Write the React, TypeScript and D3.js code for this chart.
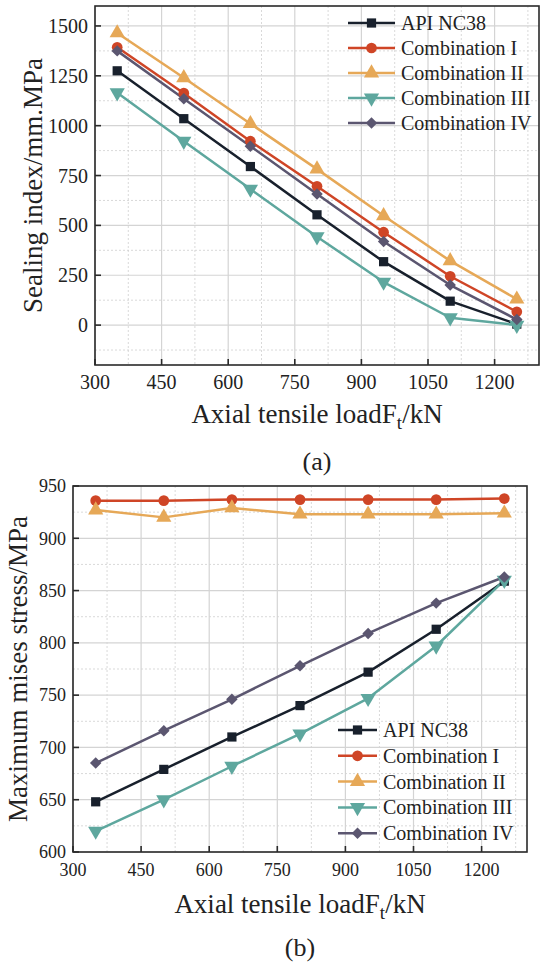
import React from "react";
import * as d3 from "d3";

const loads = [350, 500, 650, 800, 950, 1100, 1250];
const seriesNames = ["API NC38", "Combination I", "Combination II", "Combination III", "Combination IV"];
const seriesColors = ["#18202c", "#cf4526", "#e6a857", "#5ea79e", "#5b5670"];
const seriesSymbols = ["square", "circle", "triangleUp", "triangleDown", "diamond"];

// (a) Sealing index / mm.MPa
const sealApi = [1275, 1035, 795, 553, 318, 120, 5];
const sealC1 = [1393, 1163, 922, 696, 466, 245, 67];
const sealC2 = [1465, 1240, 1010, 782, 548, 322, 130];
const sealC3 = [1165, 922, 682, 443, 216, 37, 0];
const sealC4 = [1375, 1135, 897, 657, 419, 201, 28];

// (b) Maximum mises stress / MPa
const misesApi = [648, 679, 710, 740, 772, 813, 859];
const misesC1 = [936, 936, 937, 937, 937, 937, 938];
const misesC2 = [927, 920, 929, 923, 923, 923, 924];
const misesC3 = [620, 650, 682, 713, 747, 797, 860];
const misesC4 = [685, 716, 746, 778, 809, 838, 863];

const xTicks = [300, 450, 600, 750, 900, 1050, 1200];
const xMinor = [375, 525, 675, 825, 975, 1125, 1275];
const yTicksA = [0, 250, 500, 750, 1000, 1250, 1500];
const yMinorA = [-125, 125, 375, 625, 875, 1125, 1375];
const yTicksB = [600, 650, 700, 750, 800, 850, 900, 950];
const yMinorB = [625, 675, 725, 775, 825, 875, 925];

const FONT = "'Liberation Serif', 'Times New Roman', serif";

function symbolPath(kind: string) {
  switch (kind) {
    case "square":
      return { d: d3.symbol(d3.symbolSquare, 85)() as string, rot: 0 };
    case "circle":
      return { d: d3.symbol(d3.symbolCircle, 90)() as string, rot: 0 };
    case "triangleUp":
      return { d: d3.symbol(d3.symbolTriangle, 100)() as string, rot: 0 };
    case "triangleDown":
      return { d: d3.symbol(d3.symbolTriangle, 100)() as string, rot: 180 };
    default:
      return { d: d3.symbol(d3.symbolSquare, 66)() as string, rot: 45 };
  }
}

type PanelProps = {
  left: number;
  right: number;
  top: number;
  bottom: number;
  yDomain: [number, number];
  yTicks: number[];
  yMinor: number[];
  data: number[][];
  yTitle: string;
  yTitleX: number;
  xTitleY: number;
  tickLabelY: number;
  tickFont: number;
  legendX: number;
  legendY: number;
  legendStep: number;
  legendLineLen: number;
  caption: string;
  captionY: number;
};

function Panel(p: PanelProps) {
  const x = d3.scaleLinear().domain([300, 1300]).range([p.left, p.right]);
  const y = d3.scaleLinear().domain(p.yDomain).range([p.bottom, p.top]);
  const line = d3
    .line<number>()
    .x((_, i) => x(loads[i]))
    .y((v) => y(v));
  const cx = (p.left + p.right) / 2;
  const cy = (p.top + p.bottom) / 2;
  return (
    <g>
      {xMinor.map((v) => (
        <line key={"xm" + v} x1={x(v)} x2={x(v)} y1={p.top} y2={p.bottom} stroke="#cfcfcf" strokeWidth={0.8} strokeDasharray="2,2" />
      ))}
      {p.yMinor.map((v) => (
        <line key={"ym" + v} x1={p.left} x2={p.right} y1={y(v)} y2={y(v)} stroke="#cfcfcf" strokeWidth={0.8} strokeDasharray="2,2" />
      ))}
      {xTicks.map((v) => (
        <line key={"xg" + v} x1={x(v)} x2={x(v)} y1={p.top} y2={p.bottom} stroke="#d4d4d4" strokeWidth={1.2} />
      ))}
      {p.yTicks.map((v) => (
        <line key={"yg" + v} x1={p.left} x2={p.right} y1={y(v)} y2={y(v)} stroke="#d4d4d4" strokeWidth={1.2} />
      ))}
      {p.data.map((vals, si) => (
        <path key={"l" + si} d={line(vals) as string} fill="none" stroke={seriesColors[si]} strokeWidth={2.5} strokeLinejoin="round" />
      ))}
      {p.data.map((vals, si) => {
        const s = symbolPath(seriesSymbols[si]);
        return vals.map((v, i) => (
          <path
            key={"m" + si + "-" + i}
            d={s.d}
            fill={seriesColors[si]}
            transform={`translate(${x(loads[i])},${y(v)}) rotate(${s.rot})`}
          />
        ));
      })}
      <rect x={p.left} y={p.top} width={p.right - p.left} height={p.bottom - p.top} fill="none" stroke="#2a2a2a" strokeWidth={1.6} />
      {xTicks.map((v) => (
        <g key={"xt" + v}>
          <line x1={x(v)} x2={x(v)} y1={p.bottom} y2={p.bottom - 6} stroke="#2a2a2a" strokeWidth={1.6} />
          <text x={x(v)} y={p.tickLabelY} textAnchor="middle" fontFamily={FONT} fontSize={p.tickFont} fill="#222">
            {v}
          </text>
        </g>
      ))}
      {p.yTicks.map((v) => (
        <g key={"yt" + v}>
          <line x1={p.left} x2={p.left + 6} y1={y(v)} y2={y(v)} stroke="#2a2a2a" strokeWidth={1.6} />
          <text x={p.left - 7} y={y(v)} dy="0.35em" textAnchor="end" fontFamily={FONT} fontSize={p.tickFont} fill="#222">
            {v}
          </text>
        </g>
      ))}
      <text x={cx} y={p.xTitleY} textAnchor="middle" fontFamily={FONT} fontSize={27} fill="#222">
        Axial tensile loadF
        <tspan fontSize={19} dy={6}>t</tspan>
        <tspan dy={-6}>/kN</tspan>
      </text>
      <text
        transform={`translate(${p.yTitleX},${cy}) rotate(-90)`}
        textAnchor="middle"
        fontFamily={FONT}
        fontSize={27}
        fill="#222"
      >
        {p.yTitle}
      </text>
      {seriesNames.map((name, si) => {
        const ly = p.legendY + si * p.legendStep;
        const s = symbolPath(seriesSymbols[si]);
        const mx = p.legendX + p.legendLineLen / 2;
        return (
          <g key={"lg" + si}>
            <line x1={p.legendX} x2={p.legendX + p.legendLineLen} y1={ly} y2={ly} stroke={seriesColors[si]} strokeWidth={2.5} />
            <path d={s.d} fill={seriesColors[si]} transform={`translate(${mx},${ly}) rotate(${s.rot})`} />
            <text x={p.legendX + p.legendLineLen + 6} y={ly} dy="0.35em" fontFamily={FONT} fontSize={20} fill="#222">
              {name}
            </text>
          </g>
        );
      })}
      <text x={cx} y={p.captionY} textAnchor="middle" fontFamily={FONT} fontSize={26} fill="#222">
        {p.caption}
      </text>
    </g>
  );
}

export default function App() {
  return (
    <svg
      width={541}
      height={962}
      style={{ position: "absolute", left: 0, top: 0, background: "#fff" }}
      xmlns="http://www.w3.org/2000/svg"
    >
      <rect width={541} height={962} fill="#fff" />
      <Panel
        left={95}
        right={539}
        top={6}
        bottom={365}
        yDomain={[-200, 1600]}
        yTicks={yTicksA}
        yMinor={yMinorA}
        data={[sealApi, sealC1, sealC2, sealC3, sealC4]}
        yTitle="Sealing index/mm.MPa"
        yTitleX={42}
        xTitleY={423}
        tickLabelY={389}
        tickFont={20}
        legendX={348}
        legendY={23}
        legendStep={25}
        legendLineLen={47}
        caption="(a)"
        captionY={470}
      />
      <Panel
        left={73}
        right={527}
        top={486}
        bottom={852}
        yDomain={[600, 950]}
        yTicks={yTicksB}
        yMinor={yMinorB}
        data={[misesApi, misesC1, misesC2, misesC3, misesC4]}
        yTitle="Maximum mises stress/MPa"
        yTitleX={27}
        xTitleY={913}
        tickLabelY={876}
        tickFont={18}
        legendX={338}
        legendY={730}
        legendStep={25.8}
        legendLineLen={39}
        caption="(b)"
        captionY={956}
      />
    </svg>
  );
}
